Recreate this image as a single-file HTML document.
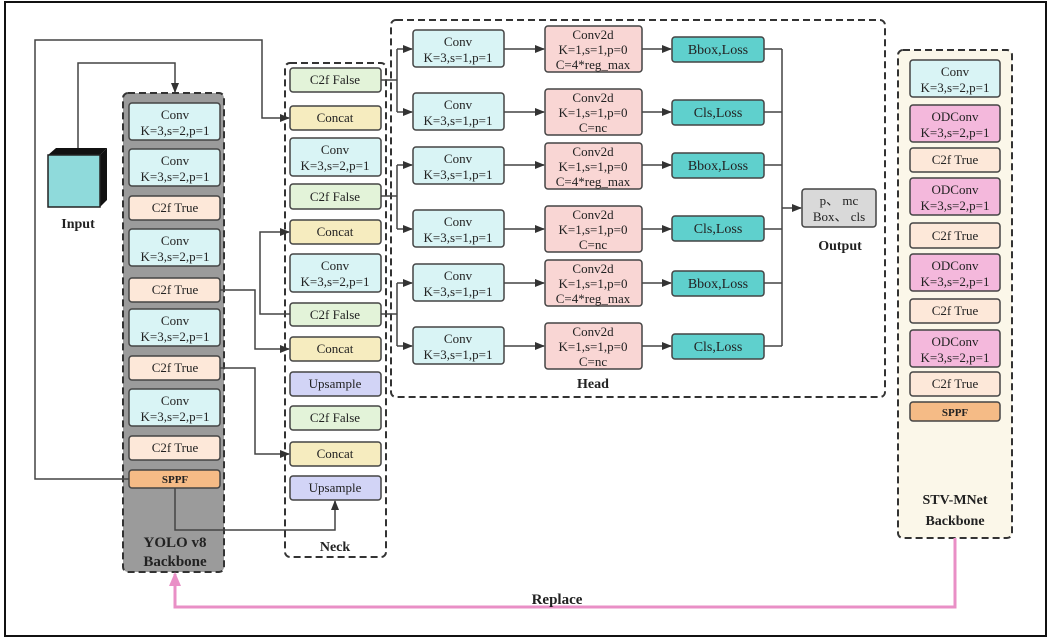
<!DOCTYPE html>
<html><head><meta charset="utf-8"><style>
body{margin:0;background:#fff}
svg{display:block}
text{font-family:"Liberation Serif",serif;fill:#222;text-anchor:middle}
.b{stroke:#444;stroke-width:1.5}
.l{stroke:#444;stroke-width:1.5;fill:none}
</style></head><body>
<svg width="1051" height="641" viewBox="0 0 1051 641" xmlns="http://www.w3.org/2000/svg">
<defs>
<marker id="a" markerWidth="10" markerHeight="8" refX="9" refY="4" orient="auto" markerUnits="userSpaceOnUse"><path d="M0,0L10,4L0,8z" fill="#333"/></marker>
<marker id="p" markerWidth="14" markerHeight="12" refX="12" refY="6" orient="auto" markerUnits="userSpaceOnUse"><path d="M0,0L14,6L0,12z" fill="#e98fc6"/></marker>
</defs>
<rect x="5" y="2" width="1041" height="634" fill="none" stroke="#111" stroke-width="2"/>

<rect x="123" y="93" width="101" height="479" rx="5" fill="#9b9b9b" stroke="#333" stroke-width="2" stroke-dasharray="7,4"/>
<rect x="285" y="63" width="101" height="494" rx="5" fill="#fff" stroke="#333" stroke-width="2" stroke-dasharray="7,4"/>
<rect x="391" y="20" width="494" height="377" rx="5" fill="none" stroke="#333" stroke-width="2" stroke-dasharray="7,4"/>
<rect x="898" y="50" width="114" height="488" rx="5" fill="#fbf7e9" stroke="#333" stroke-width="2" stroke-dasharray="7,4"/>

<polygon points="48,155 56,148 107,148 100,155" fill="#111"/>
<polygon points="100,155 107,148 107,200 100,207" fill="#111"/>
<rect x="48" y="155" width="52" height="52" fill="#8fdadb" stroke="#222" stroke-width="1.5"/>
<text x="78" y="228" font-size="14" font-weight="bold">Input</text>

<path class="l" d="M78,148V63H175V92" marker-end="url(#a)"/>
<path class="l" d="M129,479H35V40H262V118H289" marker-end="url(#a)"/>
<path class="l" d="M220,290H255V349H289" marker-end="url(#a)"/>
<path class="l" d="M290,314H260V232H289" marker-end="url(#a)"/>
<path class="l" d="M220,368H255V454H289" marker-end="url(#a)"/>
<path class="l" d="M175,488V530H335V501" marker-end="url(#a)"/>

<path class="l" d="M381,80H397M397,49V112"/>
<path class="l" d="M397,49H412" marker-end="url(#a)"/><path class="l" d="M397,112H412" marker-end="url(#a)"/>
<path class="l" d="M381,196H397M397,165V229"/>
<path class="l" d="M397,165H412" marker-end="url(#a)"/><path class="l" d="M397,229H412" marker-end="url(#a)"/>
<path class="l" d="M381,314H397M397,283V346"/>
<path class="l" d="M397,283H412" marker-end="url(#a)"/><path class="l" d="M397,346H412" marker-end="url(#a)"/>

<g font-size="13">
<path class="l" d="M642,49H671" marker-end="url(#a)"/>
<path class="l" d="M642,112H671" marker-end="url(#a)"/>
<path class="l" d="M642,165H671" marker-end="url(#a)"/>
<path class="l" d="M642,229H671" marker-end="url(#a)"/>
<path class="l" d="M642,283H671" marker-end="url(#a)"/>
<path class="l" d="M642,346H671" marker-end="url(#a)"/>
<path class="l" d="M504,49H544" marker-end="url(#a)"/><path class="l" d="M504,112H544" marker-end="url(#a)"/><path class="l" d="M504,165H544" marker-end="url(#a)"/><path class="l" d="M504,229H544" marker-end="url(#a)"/><path class="l" d="M504,283H544" marker-end="url(#a)"/><path class="l" d="M504,346H544" marker-end="url(#a)"/>
<path class="l" d="M764,49H782M764,112H782M764,165H782M764,229H782M764,283H782M764,346H782M782,49V346"/>
<path class="l" d="M782,208H801" marker-end="url(#a)"/>

<g>
<rect x="413" y="30" width="91" height="37" rx="3" fill="#d9f4f5" class="b"/><text x="458" y="46">Conv</text><text x="458" y="62">K=3,s=1,p=1</text>
<rect x="413" y="93" width="91" height="37" rx="3" fill="#d9f4f5" class="b"/><text x="458" y="109">Conv</text><text x="458" y="125">K=3,s=1,p=1</text>
<rect x="413" y="147" width="91" height="37" rx="3" fill="#d9f4f5" class="b"/><text x="458" y="163">Conv</text><text x="458" y="179">K=3,s=1,p=1</text>
<rect x="413" y="210" width="91" height="37" rx="3" fill="#d9f4f5" class="b"/><text x="458" y="226">Conv</text><text x="458" y="242">K=3,s=1,p=1</text>
<rect x="413" y="264" width="91" height="37" rx="3" fill="#d9f4f5" class="b"/><text x="458" y="280">Conv</text><text x="458" y="296">K=3,s=1,p=1</text>
<rect x="413" y="327" width="91" height="37" rx="3" fill="#d9f4f5" class="b"/><text x="458" y="343">Conv</text><text x="458" y="359">K=3,s=1,p=1</text>
</g>
<g>
<rect x="545" y="26" width="97" height="46" rx="3" fill="#f9d6d4" class="b"/><text x="593" y="39">Conv2d</text><text x="593" y="54">K=1,s=1,p=0</text><text x="593" y="69">C=4*reg_max</text>
<rect x="545" y="89" width="97" height="46" rx="3" fill="#f9d6d4" class="b"/><text x="593" y="102">Conv2d</text><text x="593" y="117">K=1,s=1,p=0</text><text x="593" y="132">C=nc</text>
<rect x="545" y="143" width="97" height="46" rx="3" fill="#f9d6d4" class="b"/><text x="593" y="156">Conv2d</text><text x="593" y="171">K=1,s=1,p=0</text><text x="593" y="186">C=4*reg_max</text>
<rect x="545" y="206" width="97" height="46" rx="3" fill="#f9d6d4" class="b"/><text x="593" y="219">Conv2d</text><text x="593" y="234">K=1,s=1,p=0</text><text x="593" y="249">C=nc</text>
<rect x="545" y="260" width="97" height="46" rx="3" fill="#f9d6d4" class="b"/><text x="593" y="273">Conv2d</text><text x="593" y="288">K=1,s=1,p=0</text><text x="593" y="303">C=4*reg_max</text>
<rect x="545" y="323" width="97" height="46" rx="3" fill="#f9d6d4" class="b"/><text x="593" y="336">Conv2d</text><text x="593" y="351">K=1,s=1,p=0</text><text x="593" y="366">C=nc</text>
</g>
<g font-size="14">
<rect x="672" y="37" width="92" height="25" rx="3" fill="#5fd0cd" class="b"/><text x="718" y="54">Bbox,Loss</text>
<rect x="672" y="100" width="92" height="25" rx="3" fill="#5fd0cd" class="b"/><text x="718" y="117">Cls,Loss</text>
<rect x="672" y="153" width="92" height="25" rx="3" fill="#5fd0cd" class="b"/><text x="718" y="170">Bbox,Loss</text>
<rect x="672" y="216" width="92" height="25" rx="3" fill="#5fd0cd" class="b"/><text x="718" y="233">Cls,Loss</text>
<rect x="672" y="271" width="92" height="25" rx="3" fill="#5fd0cd" class="b"/><text x="718" y="288">Bbox,Loss</text>
<rect x="672" y="334" width="92" height="25" rx="3" fill="#5fd0cd" class="b"/><text x="718" y="351">Cls,Loss</text>
</g>
<rect x="802" y="189" width="74" height="38" rx="3" fill="#d9d9d9" class="b"/><text x="839" y="205">p、 mc</text><text x="839" y="221">Box、 cls</text>
</g>
<text x="840" y="250" font-size="14" font-weight="bold">Output</text>
<text x="593" y="388" font-size="14" font-weight="bold">Head</text>

<g font-size="13">
<rect x="129" y="103" width="91" height="37" rx="3" fill="#d9f4f5" class="b"/><text x="175" y="119">Conv</text><text x="175" y="135">K=3,s=2,p=1</text>
<rect x="129" y="149" width="91" height="37" rx="3" fill="#d9f4f5" class="b"/><text x="175" y="165">Conv</text><text x="175" y="181">K=3,s=2,p=1</text>
<rect x="129" y="196" width="91" height="24" rx="3" fill="#fde8d9" class="b"/><text x="175" y="212">C2f True</text>
<rect x="129" y="229" width="91" height="37" rx="3" fill="#d9f4f5" class="b"/><text x="175" y="245">Conv</text><text x="175" y="261">K=3,s=2,p=1</text>
<rect x="129" y="278" width="91" height="24" rx="3" fill="#fde8d9" class="b"/><text x="175" y="294">C2f True</text>
<rect x="129" y="309" width="91" height="37" rx="3" fill="#d9f4f5" class="b"/><text x="175" y="325">Conv</text><text x="175" y="341">K=3,s=2,p=1</text>
<rect x="129" y="356" width="91" height="24" rx="3" fill="#fde8d9" class="b"/><text x="175" y="372">C2f True</text>
<rect x="129" y="389" width="91" height="37" rx="3" fill="#d9f4f5" class="b"/><text x="175" y="405">Conv</text><text x="175" y="421">K=3,s=2,p=1</text>
<rect x="129" y="436" width="91" height="24" rx="3" fill="#fde8d9" class="b"/><text x="175" y="452">C2f True</text>
<rect x="129" y="470" width="91" height="18" rx="3" fill="#f5bb86" class="b"/><text x="175" y="483" font-size="11" font-weight="bold">SPPF</text>
</g>
<text x="175" y="547" font-size="15" font-weight="bold">YOLO v8</text>
<text x="175" y="566" font-size="15" font-weight="bold">Backbone</text>

<g font-size="13">
<rect x="290" y="68" width="91" height="24" rx="3" fill="#e3f3d9" class="b"/><text x="335" y="84">C2f False</text>
<rect x="290" y="106" width="91" height="24" rx="3" fill="#f6ecbf" class="b"/><text x="335" y="122">Concat</text>
<rect x="290" y="138" width="91" height="38" rx="3" fill="#d9f4f5" class="b"/><text x="335" y="154">Conv</text><text x="335" y="170">K=3,s=2,p=1</text>
<rect x="290" y="184" width="91" height="25" rx="3" fill="#e3f3d9" class="b"/><text x="335" y="201">C2f False</text>
<rect x="290" y="220" width="91" height="24" rx="3" fill="#f6ecbf" class="b"/><text x="335" y="236">Concat</text>
<rect x="290" y="254" width="91" height="38" rx="3" fill="#d9f4f5" class="b"/><text x="335" y="270">Conv</text><text x="335" y="286">K=3,s=2,p=1</text>
<rect x="290" y="303" width="91" height="23" rx="3" fill="#e3f3d9" class="b"/><text x="335" y="319">C2f False</text>
<rect x="290" y="337" width="91" height="24" rx="3" fill="#f6ecbf" class="b"/><text x="335" y="353">Concat</text>
<rect x="290" y="372" width="91" height="24" rx="3" fill="#d2d4f6" class="b"/><text x="335" y="388">Upsample</text>
<rect x="290" y="406" width="91" height="24" rx="3" fill="#e3f3d9" class="b"/><text x="335" y="422">C2f False</text>
<rect x="290" y="442" width="91" height="24" rx="3" fill="#f6ecbf" class="b"/><text x="335" y="458">Concat</text>
<rect x="290" y="476" width="91" height="24" rx="3" fill="#d2d4f6" class="b"/><text x="335" y="492">Upsample</text>
</g>
<text x="335" y="551" font-size="14" font-weight="bold">Neck</text>

<g font-size="13">
<rect x="910" y="60" width="90" height="37" rx="3" fill="#d9f4f5" class="b"/><text x="955" y="76">Conv</text><text x="955" y="92">K=3,s=2,p=1</text>
<rect x="910" y="105" width="90" height="37" rx="3" fill="#f4b8dc" class="b"/><text x="955" y="121">ODConv</text><text x="955" y="137">K=3,s=2,p=1</text>
<rect x="910" y="148" width="90" height="24" rx="3" fill="#fde8d9" class="b"/><text x="955" y="164">C2f True</text>
<rect x="910" y="178" width="90" height="37" rx="3" fill="#f4b8dc" class="b"/><text x="955" y="194">ODConv</text><text x="955" y="210">K=3,s=2,p=1</text>
<rect x="910" y="223" width="90" height="25" rx="3" fill="#fde8d9" class="b"/><text x="955" y="240">C2f True</text>
<rect x="910" y="254" width="90" height="37" rx="3" fill="#f4b8dc" class="b"/><text x="955" y="270">ODConv</text><text x="955" y="286">K=3,s=2,p=1</text>
<rect x="910" y="299" width="90" height="24" rx="3" fill="#fde8d9" class="b"/><text x="955" y="315">C2f True</text>
<rect x="910" y="330" width="90" height="37" rx="3" fill="#f4b8dc" class="b"/><text x="955" y="346">ODConv</text><text x="955" y="362">K=3,s=2,p=1</text>
<rect x="910" y="372" width="90" height="24" rx="3" fill="#fde8d9" class="b"/><text x="955" y="388">C2f True</text>
<rect x="910" y="402" width="90" height="19" rx="3" fill="#f5bb86" class="b"/><text x="955" y="416" font-size="11" font-weight="bold">SPPF</text>
</g>
<text x="955" y="504" font-size="14" font-weight="bold">STV-MNet</text>
<text x="955" y="525" font-size="14" font-weight="bold">Backbone</text>

<path d="M955,538V607H175V574" fill="none" stroke="#e98fc6" stroke-width="3" marker-end="url(#p)"/>
<text x="557" y="604" font-size="15" font-weight="bold">Replace</text>
</svg>
</body></html>
